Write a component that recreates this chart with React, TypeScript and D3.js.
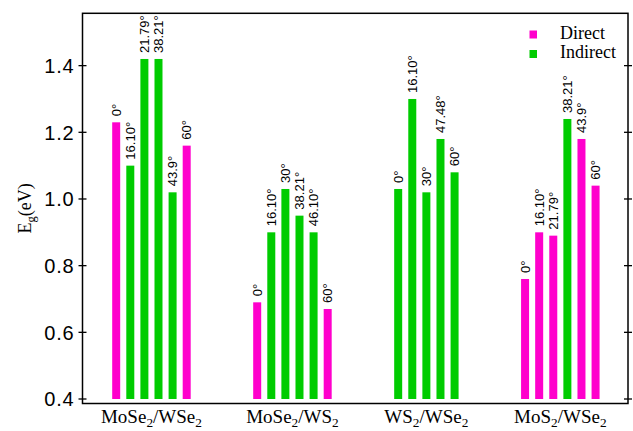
import React from "react";
import * as d3 from "d3";

// Heterostructure categories (digits are drawn as subscripts)
const categories = ["MoSe2/WSe2", "MoSe2/WS2", "WS2/WSe2", "MoS2/WSe2"];
// First bar slot of each category along the x axis
const groupStartSlots = [0, 10, 20, 29];
// Twist angle label on top of each bar
const angleLabels = [
  ["0°", "16.10°", "21.79°", "38.21°", "43.9°", "60°"],
  ["0°", "16.10°", "30°", "38.21°", "46.10°", "60°"],
  ["0°", "16.10°", "30°", "47.48°", "60°"],
  ["0°", "16.10°", "21.79°", "38.21°", "43.9°", "60°"],
];
// Band gap values, eV
const gapValues = [
  [1.23, 1.1, 1.42, 1.42, 1.02, 1.16],
  [0.69, 0.9, 1.03, 0.95, 0.9, 0.67],
  [1.03, 1.3, 1.02, 1.18, 1.08],
  [0.76, 0.9, 0.89, 1.24, 1.18, 1.04],
];
// Gap type: D = direct, I = indirect
const gapTypes = [
  ["D", "I", "I", "I", "I", "D"],
  ["D", "I", "I", "I", "I", "D"],
  ["I", "I", "I", "I", "I"],
  ["D", "D", "D", "I", "D", "D"],
];
const legendItems = [
  { key: "D", label: "Direct" },
  { key: "I", label: "Indirect" },
];
const yTicks = [0.4, 0.6, 0.8, 1.0, 1.2, 1.4];

const COLORS: Record<string, string> = { D: "#ff00cc", I: "#00cc00" };

const W = 633;
const H = 431;
const left = 82.5;
const right = 628;
const top = 13.3;
const bottom = 403.5;

const x = d3.scaleLinear().domain([-2.39, 36.3]).range([left, right]);
const y = d3.scaleLinear().domain([0.3865, 1.557]).range([bottom, top]);
const barW = 8;
const baseVal = 0.4;

// Split a formula so each digit becomes a lowered, smaller tspan
function withSubscripts(s: string) {
  const parts = s.split(/(\d)/).filter((p) => p !== "");
  return parts.map((p, i) =>
    /\d/.test(p) ? (
      <tspan key={i} dy={4} fontSize="0.7em">
        {p}
      </tspan>
    ) : (
      <tspan key={i} dy={i > 0 ? -4 : 0}>
        {p}
      </tspan>
    )
  );
}

export default function App() {
  const bars: any[] = [];
  gapValues.forEach((vals, g) => {
    vals.forEach((v, i) => {
      bars.push({
        slot: groupStartSlots[g] + i,
        value: v,
        type: gapTypes[g][i],
        label: angleLabels[g][i],
      });
    });
  });

  const sans = "'Liberation Sans', Arial, Helvetica, sans-serif";
  const serif = "'Liberation Serif', 'Times New Roman', serif";

  return (
    <svg
      width={W}
      height={H}
      style={{ position: "absolute", left: 0, top: 0, background: "#fff" }}
    >
      <rect width={W} height={H} fill="#fff" />
      {/* bars */}
      {bars.map((b, i) => (
        <rect
          key={i}
          x={x(b.slot) - barW / 2}
          y={y(b.value)}
          width={barW}
          height={y(baseVal) - y(b.value)}
          fill={COLORS[b.type]}
        />
      ))}
      {/* angle labels */}
      {bars.map((b, i) => (
        <text
          key={"l" + i}
          transform={`translate(${x(b.slot)},${y(b.value) - 6}) rotate(-90)`}
          dy="0.36em"
          fontFamily={sans}
          fontSize={13}
          fill="#000"
        >
          {b.label}
        </text>
      ))}
      {/* frame */}
      <rect
        x={left}
        y={top}
        width={right - left}
        height={bottom - top}
        fill="none"
        stroke="#000"
        strokeWidth={1.5}
      />
      {/* y ticks on both sides */}
      {yTicks.map((t) => (
        <g key={t}>
          <line x1={left - 4} x2={left + 4} y1={y(t)} y2={y(t)} stroke="#000" strokeWidth={1.3} />
          <line x1={right - 4} x2={right + 4} y1={y(t)} y2={y(t)} stroke="#000" strokeWidth={1.3} />
          <text
            x={left - 8}
            y={y(t)}
            dy="0.36em"
            textAnchor="end"
            fontFamily={sans}
            fontSize={20}
            letterSpacing={0.8}
            fill="#000"
          >
            {d3.format(".1f")(t)}
          </text>
        </g>
      ))}
      {/* y axis title */}
      <text
        transform={`translate(31,${(top + bottom) / 2}) rotate(-90)`}
        textAnchor="middle"
        fontFamily={serif}
        fontSize={18}
        fill="#000"
      >
        <tspan>E</tspan>
        <tspan dy={4} fontSize="0.7em">g</tspan>
        <tspan dy={-4}>(eV)</tspan>
      </text>
      {/* category labels */}
      {categories.map((c, g) => {
        const n = gapValues[g].length;
        const cx = x(groupStartSlots[g] + (n - 1) / 2);
        return (
          <text
            key={c}
            x={cx}
            y={423}
            textAnchor="middle"
            fontFamily={serif}
            fontSize={19}
            fill="#000"
          >
            {withSubscripts(c)}
          </text>
        );
      })}
      {/* legend */}
      {legendItems.map((it, i) => (
        <g key={it.key} transform={`translate(529.5,${30.5 + i * 19.5})`}>
          <rect width={7.5} height={8} fill={COLORS[it.key]} />
          <text x={30.5} y={8} fontFamily={serif} fontSize={18} fill="#000">
            {it.label}
          </text>
        </g>
      ))}
    </svg>
  );
}
